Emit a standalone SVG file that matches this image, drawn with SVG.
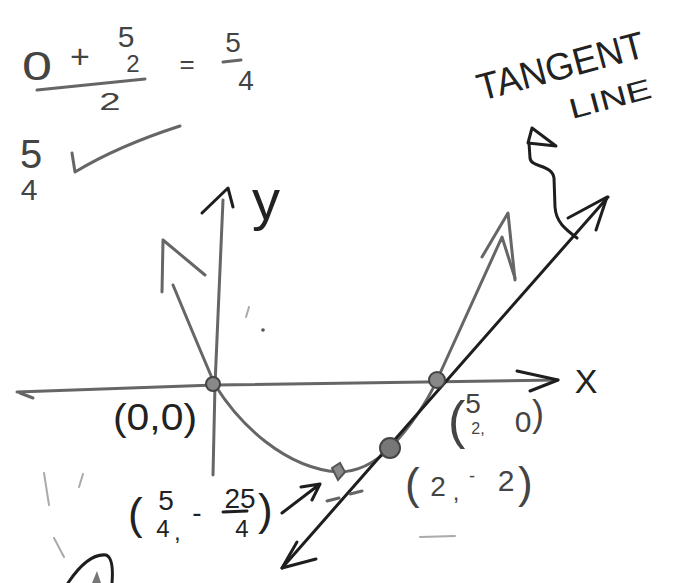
<svg xmlns="http://www.w3.org/2000/svg" width="686" height="583" viewBox="0 0 686 583">
<style>
.ink{fill:none;stroke:#1e1e1e;stroke-width:3;stroke-linecap:round;stroke-linejoin:round}
.pen{fill:none;stroke:#666;stroke-width:3;stroke-linecap:round;stroke-linejoin:round}
.faint{fill:none;stroke:#aaa;stroke-width:2;stroke-linecap:round}
.t{font-family:"Liberation Sans",Arial,sans-serif;fill:#222}
.tg{font-family:"Liberation Sans",Arial,sans-serif;fill:#444}
.dot{fill:#888;stroke:#444;stroke-width:2}
</style>
<rect width="686" height="583" fill="#fff"/>

<g id="equation">
  <text class="tg" transform="translate(37,80) scale(1.35,1)" font-size="40" text-anchor="middle">0</text>
  <text class="tg" x="80" y="68" font-size="34" text-anchor="middle">+</text>
  <text class="tg" x="126" y="47" font-size="30" text-anchor="middle">5</text>
  <text class="tg" x="133" y="72" font-size="24" text-anchor="middle">2</text>
  <path class="pen" d="M37,90 L145,79" stroke="#444" stroke-width="4"/>
  <text class="tg" transform="translate(110,110) scale(1.6,1)" font-size="24" text-anchor="middle">2</text>
  <text class="tg" x="187" y="73" font-size="26" text-anchor="middle">=</text>
  <text class="tg" x="233" y="52" font-size="28" text-anchor="middle">5</text>
  <path class="pen" d="M223,62 L241,60" stroke="#444"/>
  <text class="tg" x="246" y="90" font-size="28" text-anchor="middle">4</text>
</g>

<g id="side-note">
  <text class="tg" x="31" y="168" font-size="40" text-anchor="middle" fill="#777">5</text>
  <text class="tg" x="29" y="200" font-size="30" text-anchor="middle" fill="#777">4</text>
  <path class="pen" d="M72,153 L75,172 Q118,146 180,126" stroke="#777"/>
</g>

<g id="tangent-label">
  <text class="t" transform="translate(481,101) rotate(-15)" font-size="38" textLength="172" lengthAdjust="spacingAndGlyphs">TANGENT</text>
  <text class="t" transform="translate(572,119) rotate(-15)" font-size="28" textLength="84" lengthAdjust="spacingAndGlyphs">LINE</text>
</g>

<g id="axes">
  <path class="pen" d="M17,392 L215,385 L558,380" stroke="#555"/>
  <path class="pen" d="M20,393 L33,398" stroke="#555" stroke-width="2"/>
  <path class="ink" d="M517,371 L558,380 L530,391"/>
  <text class="t" x="586" y="393" font-size="34" text-anchor="middle">X</text>
  <path class="pen" d="M213,475 L215,385 L223,200" stroke="#888"/>
  <path class="ink" d="M202,213 L228,188 L233,207"/>
  <text class="t" x="266" y="219" font-size="56" text-anchor="middle">y</text>
</g>

<g id="parabola">
  <path class="pen" d="M173,285 Q200,350 215,385"/>
  <path class="pen" d="M163,240 L162,292 M163,240 L205,275"/>
  <path class="pen" d="M215,385 C240,425 285,468 338,472 C360,472 378,460 390,448 C410,428 428,400 437,380 C460,330 482,280 502,237 L515,278"/>
  <path class="pen" d="M482,257 L508,213 L515,280"/>
</g>

<g id="tangent-line">
  <path class="ink" d="M282,568 L608,197"/>
  <path class="ink" d="M568,218 L607,197 L596,230"/>
  <path class="ink" d="M297,542 L282,568 L316,559"/>
</g>

<g id="connectors">
  <path class="ink" d="M528,143 L532,128 L556,146 Z"/>
  <path class="ink" d="M529,143 L530,158 C531,168 552,164 554,178 L555,207 C556,222 565,229 577,238"/>
  <path class="ink" d="M282,513 L320,484 M301,487 L320,484 L312,500"/>
  <path class="pen" d="M327,501 L339,498 M350,494 L362,491" stroke-width="2"/>
</g>

<g id="point-origin">
  <circle class="dot" cx="213" cy="384" r="7"/>
  <text class="t" x="155" y="430" font-size="36" text-anchor="middle" textLength="84" lengthAdjust="spacingAndGlyphs">(0,0)</text>
</g>

<g id="point-root">
  <circle class="dot" cx="437" cy="380" r="8"/>
  <text class="tg" x="448" y="438" font-size="52" fill="#666">(</text>
  <text class="tg" x="473" y="413" font-size="28" text-anchor="middle">5</text>
  <text class="tg" x="478" y="434" font-size="16" text-anchor="middle" fill="#777">2,</text>
  <text class="tg" x="523" y="432" font-size="30" text-anchor="middle">0</text>
  <text class="tg" x="532" y="426" font-size="36" fill="#777">)</text>
</g>

<g id="point-tangent">
  <circle cx="390" cy="448" r="10" fill="#777" stroke="#444" stroke-width="2"/>
  <text class="tg" x="405" y="499" font-size="44" fill="#666">(</text>
  <text class="tg" x="438" y="496" font-size="28" text-anchor="middle">2</text>
  <text class="tg" x="456" y="500" font-size="24" text-anchor="middle">,</text>
  <text class="tg" x="472" y="482" font-size="18" text-anchor="middle">-</text>
  <text class="tg" x="506" y="491" font-size="30" text-anchor="middle">2</text>
  <text class="tg" x="518" y="498" font-size="44" fill="#777">)</text>
</g>

<g id="point-vertex">
  <path d="M332,468 L340,463 L345,472 L338,480 Z" fill="#888" stroke="#555" stroke-width="2"/>
  <text class="t" x="128" y="529" font-size="44">(</text>
  <text class="t" x="166" y="510" font-size="28" text-anchor="middle">5</text>
  <text class="t" x="163" y="537" font-size="24" text-anchor="middle">4</text>
  <text class="t" x="174" y="540" font-size="24">,</text>
  <text class="t" x="197" y="522" font-size="28" text-anchor="middle">-</text>
  <text class="t" x="240" y="508" font-size="28" text-anchor="middle">25</text>
  <path class="ink" d="M223,512 L247,511" stroke-width="2"/>
  <text class="t" x="242" y="537" font-size="24" text-anchor="middle">4</text>
  <text class="t" x="258" y="525" font-size="44">)</text>
</g>

<g id="marks">
  <path class="faint" d="M44,473 L49,505 M83,474 L79,487 M54,538 L64,557"/>
  <path class="faint" d="M246,317 L249,307 M420,537 L455,536"/>
  <circle cx="263" cy="330" r="1.8" fill="#555"/>
  <path class="ink" d="M68,583 Q88,553 106,555 Q114,558 112,583" stroke="#333" stroke-width="4"/>
  <path d="M92,583 L97,571 L101,583 Z" fill="#777"/>
</g>
</svg>
